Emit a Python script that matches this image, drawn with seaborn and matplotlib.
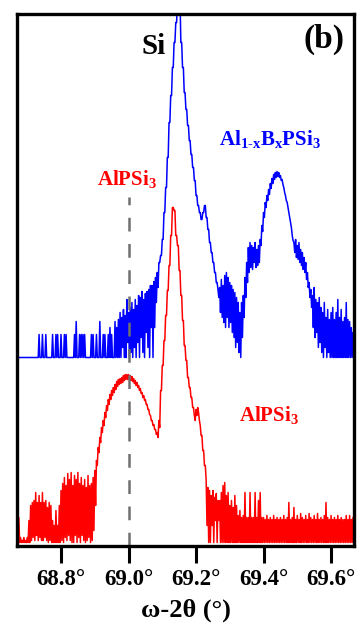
import numpy as np
import pandas as pd
import seaborn as sns
import matplotlib.pyplot as plt

# omega-2theta scan, 0.005 deg steps starting at 68.67 deg
start, step = 68.67, 0.005
n_points = 200

# counts (arbitrary units); hi / lo = upper and lower edge of the noisy trace
blue_hi = [0, 0, 0, 0, 0, 0, 0, 0, 0, 0, 0, 0, 0, 23, 0, 23, 0, 23, 0, 0,
           0, 23, 0, 23, 23, 0, 23, 0, 23, 23, 0, 0, 0, 0, 23, 36, 0, 23, 23, 23,
           23, 0, 0, 0, 23, 23, 0, 23, 0, 36, 0, 23, 23, 0, 23, 30, 23, 0, 36, 30,
           38, 45, 40, 48, 42, 58, 45, 50, 55, 48, 58, 52, 62, 60, 66, 58, 64, 66, 68, 72,
           72, 76, 80, 85, 95, 102, 118, 145, 170, 200, 235, 262, 290, 315, 335, 360, 360, 315, 290, 265,
           248, 232, 217, 203, 190, 177, 162, 152, 145, 138, 145, 152, 140, 128, 115, 105, 95, 85, 75, 68,
           70, 78, 72, 82, 85, 80, 75, 72, 68, 65, 60, 55, 45, 55, 62, 80, 95, 110, 115, 112,
           110, 115, 108, 112, 118, 132, 145, 155, 162, 168, 174, 179, 183, 185, 186, 185, 182, 178, 170, 162,
           155, 145, 135, 122, 115, 118, 112, 115, 108, 105, 100, 95, 85, 75, 68, 62, 70, 58, 55, 60,
           50, 45, 55, 40, 48, 38, 45, 50, 38, 45, 58, 40, 48, 36, 40, 55, 38, 36, 30, 25]
blue_lo = [0] * 60 + \
          [0, 0, 10, 0, 0, 15, 0, 5, 0, 10, 0, 15, 0, 20, 5, 0, 25, 10, 0, 30,
           0, 30, 55, 70, 95, 102, 118, 145, 170, 200, 235, 262, 290, 315, 335, 360, 360, 315, 290, 265,
           248, 232, 217, 203, 190, 177, 162, 152, 145, 138, 145, 152, 140, 128, 115, 105, 95, 85, 75, 60,
           45, 40, 35, 30, 40, 30, 35, 25, 20, 10, 15, 5, 0, 20, 40, 60, 75, 85, 90, 88,
           95, 90, 92, 95, 112, 126, 140, 150, 157, 163, 169, 174, 178, 180, 181, 180, 177, 173, 165, 157,
           150, 140, 130, 117, 105, 100, 98, 95, 92, 88, 85, 78, 70, 60, 50, 30, 20, 25, 10, 15,
           5, 0, 10, 0, 5, 0, 0, 0, 0, 0, 0, 0, 0, 0, 0, 0, 0, 0, 0, 0]

red_hi = [30, 28, 8, 5, 8, 5, 8, 25, 40, 43, 45, 53, 43, 50, 43, 53, 43, 45, 38, 43,
          40, 25, 20, 35, 20, 40, 55, 62, 68, 60, 72, 66, 73, 60, 70, 66, 73, 62, 68, 60,
          66, 58, 70, 60, 62, 68, 75, 85, 98, 108, 118, 125, 133, 140, 146, 151, 155, 158, 161, 164,
          166, 167, 168, 170, 171, 171, 171, 170, 169, 167, 165, 163, 160, 157, 153, 150, 146, 141, 136, 130,
          125, 121, 116, 113, 125, 155, 180, 205, 230, 255, 280, 310, 338, 335, 310, 300, 275, 250, 225, 200,
          185, 168, 158, 148, 138, 130, 136, 138, 125, 110, 95, 80, 65, 58, 55, 50, 55, 48, 52, 45,
          45, 53, 60, 63, 50, 53, 40, 45, 38, 50, 40, 30, 35, 28, 30, 53, 28, 28, 53, 28,
          28, 53, 28, 45, 53, 28, 28, 26, 30, 26, 28, 26, 30, 26, 28, 26, 28, 26, 30, 26,
          28, 43, 26, 28, 38, 26, 30, 26, 32, 28, 26, 30, 26, 32, 28, 26, 30, 26, 32, 26,
          28, 26, 30, 43, 28, 26, 30, 26, 28, 26, 30, 26, 28, 26, 26, 30, 26, 30, 26, 28]
red_lo = [3, 3, 3, 3, 3, 3, 3, 3, 5, 8, 5, 10, 5, 8, 5, 5, 8, 5, 3, 5,
          3, 3, 3, 3, 3, 3, 5, 3, 8, 5, 10, 5, 3, 3, 10, 3, 8, 3, 10, 5,
          3, 5, 8, 3, 5, 15, 40, 80, 93, 103, 113, 120, 128, 135, 141, 146, 150, 153, 156, 159,
          161, 162, 163, 165, 166, 166, 166, 165, 164, 162, 160, 158, 155, 152, 148, 145, 141, 136, 131, 125,
          120, 116, 111, 108, 118, 155, 180, 205, 230, 255, 280, 310, 338, 335, 310, 300, 275, 250, 225, 200,
          185, 168, 158, 148, 138, 125, 130, 133, 120, 110, 95, 80, 20, 3, 3, 20, 3, 25, 3, 25] + [3] * 80

blue_offset = 188
ref_line_x = 69.0
ref_line_top = 349

tick_pos = [68.8, 69.0, 69.2, 69.4, 69.6]
tick_labels = ['68.8°', '69.0°', '69.2°', '69.4°', '69.6°']

two_theta = np.round(start + step * np.arange(n_points), 4)


def trace(name, hi, lo, offset):
    x = np.column_stack([two_theta, two_theta + step / 2]).ravel()
    y = np.column_stack([hi, lo]).ravel() + offset
    return pd.DataFrame({'two_theta': x, 'intensity': y, 'scan': name})


df = pd.concat([trace('AlBPSi3', blue_hi, blue_lo, blue_offset),
                trace('AlPSi3', red_hi, red_lo, 0)])

sns.set_style('white')
plt.rcParams['font.family'] = ['Liberation Serif', 'DejaVu Serif']
plt.rcParams['font.weight'] = 'bold'
plt.rcParams['text.color'] = 'black'
plt.rcParams['axes.labelcolor'] = 'black'
plt.rcParams['xtick.color'] = 'black'
plt.rcParams['mathtext.fontset'] = 'custom'
plt.rcParams['mathtext.rm'] = 'Liberation Serif:bold'
plt.rcParams['mathtext.bf'] = 'Liberation Serif:bold'
plt.rcParams['mathtext.it'] = 'Liberation Serif:italic:bold'
plt.rcParams['mathtext.default'] = 'bf'

fig = plt.figure(figsize=(3.57, 6.25), dpi=100)
ax = fig.add_axes([17.3 / 357, 79.5 / 625, 336.7 / 357, 531.5 / 625])

sns.lineplot(data=df, x='two_theta', y='intensity', hue='scan',
             palette={'AlBPSi3': '#0000ff', 'AlPSi3': '#ff0000'},
             estimator=None, legend=False, lw=1.1, ax=ax)
ax.vlines(ref_line_x, 0, ref_line_top, colors='#707070', linestyles=(0, (5.5, 5)), lw=1.8)

ax.set_xlim(68.6705, 69.668)
ax.set_ylim(0, 531.5)
ax.set_yticks([])
ax.set_xticks(tick_pos)
ax.set_xticklabels(tick_labels, fontsize=16.5, fontweight='bold', color='black')
ax.tick_params(axis='x', direction='out', length=12, width=2.2, pad=5, color='black', bottom=True)
for s in ax.spines.values():
    s.set_linewidth(2.4)
    s.set_color('black')
ax.set_ylabel('')
ax.set_xlabel('ω-2θ (°)', fontsize=19, fontweight='bold', labelpad=6, color='black')

ax.text(69.0756, 499, 'Si', fontsize=21, fontweight='bold', ha='center', va='center', color='black')
ax.text(69.579, 506, '(b)', fontsize=24, fontweight='bold', ha='center', va='center', color='black')
ax.text(69.419, 401, r'Al$_{1\text{-}x}$B$_{x}$PSi$_{3}$', fontsize=15, color='#0000ff',
        ha='center', va='baseline')
ax.text(68.9956, 361, r'AlPSi$_{3}$', fontsize=15, color='#ff0000', ha='center', va='baseline')
ax.text(69.4163, 124, r'AlPSi$_{3}$', fontsize=15, color='#ff0000', ha='center', va='baseline')

plt.savefig('out.png', dpi=100)
